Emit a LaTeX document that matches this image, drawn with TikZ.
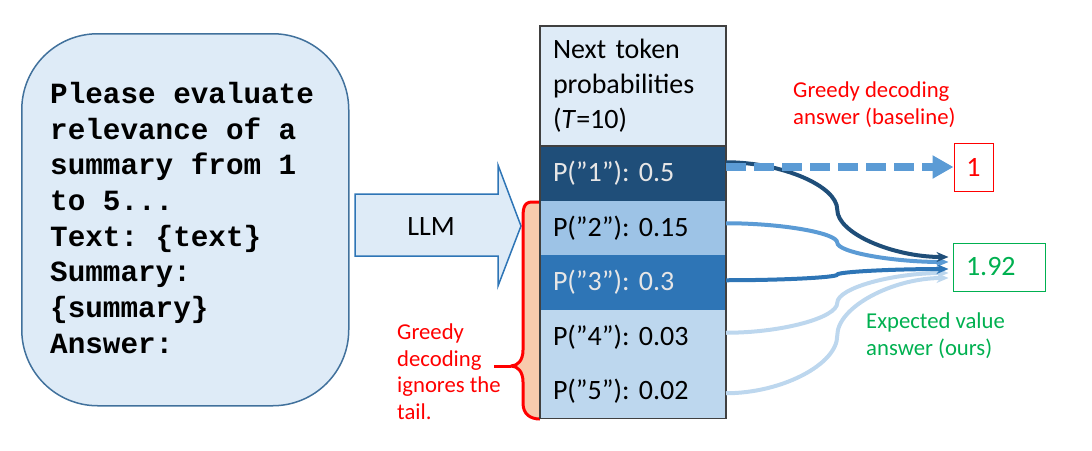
\documentclass[tikz,border=0pt]{standalone}
\usepackage{fontspec}
\setmainfont{Carlito}
\newfontfamily\promptfont{Liberation Mono}
\usetikzlibrary{arrows.meta,calc}
\definecolor{lightbg}{HTML}{DEEBF7}
\definecolor{promptborder}{HTML}{41719C}
\definecolor{llmborder}{HTML}{2E75B6}
\definecolor{pdark}{HTML}{1F4E79}
\definecolor{pmed}{HTML}{9DC3E6}
\definecolor{pblue}{HTML}{2E75B6}
\definecolor{plight}{HTML}{BDD7EE}
\definecolor{pdash}{HTML}{5B9BD5}
\definecolor{ptext}{HTML}{E7E6E6}
\definecolor{tailfill}{HTML}{F8CBAD}
\definecolor{tborder}{HTML}{404040}
\definecolor{redc}{HTML}{FF0000}
\definecolor{greenc}{HTML}{00B050}
\frenchspacing
\tikzset{
  cell/.style={anchor=north west, minimum width=186pt, minimum height=54.5pt,
    text width=160pt, inner xsep=13pt, inner ysep=0pt, outer sep=0pt, align=left,
    font=\fontsize{28}{35}\selectfont},
  note/.style={anchor=north west, inner sep=0pt, align=left,
    font=\fontsize{22.7}{26.5}\selectfont},
  cc3/.style={to path={let \p1=(\tikztostart), \p2=(\tikztotarget) in
    .. controls ({(3*\x1+\x2)/4},\y1) and ({(\x1+\x2)/2},{(3*\y1+\y2)/4}) ..
    ({(\x1+\x2)/2},{(\y1+\y2)/2})
    .. controls ({(\x1+\x2)/2},{(\y1+3*\y2)/4}) and ({(\x1+3*\x2)/4},\y2) ..
    (\tikztotarget) \tikztonodes}},
  flow/.style={line width=4pt, cc3, -{Stealth[length=12pt,width=10pt,inset=4pt]}},
}
\begin{document}
\begin{tikzpicture}[x=1pt,y=-1pt]
\useasboundingbox (0,0) rectangle (1092,450);

% prompt box
\node[draw=promptborder, line width=1.5pt, fill=lightbg, rounded corners=76pt,
  minimum width=327pt, minimum height=372pt, anchor=north west, inner sep=0pt] (prompt) at (21,33) {};
\node[anchor=north west, inner sep=0pt, align=left,
  font=\promptfont\bfseries\fontsize{29.3}{35.7}\selectfont] (ptext) at (50,82)
  {Please evaluate\\relevance of a\\summary from 1\\to 5...\\Text: \{text\}\\Summary:\\\{summary\}\\Answer:};

% LLM arrow
\draw[draw=llmborder, fill=lightbg, line width=1.5pt]
  (355,194) -- (498,194) -- (498,165) -- (521,226) -- (498,286) -- (498,256) -- (355,256) -- cycle;
\node[font=\fontsize{28}{34}\selectfont] (llm) at (431,227) {LLM};

% tail brace
\fill[tailfill] (540,202) -- (532,202) .. controls (523,202) and (523,210) .. (523,220) -- (523,350)
  .. controls (523,360) and (518,366) .. (511,366)
  .. controls (518,366) and (523,372) .. (523,382) -- (523,403)
  .. controls (523,414) and (530,419) .. (540,419) -- cycle;
\draw[redc, line width=3pt, line join=round] (540,202) -- (532,202) .. controls (523,202) and (523,210) .. (523,220) -- (523,350)
  .. controls (523,360) and (518,366) .. (511,366)
  .. controls (518,366) and (523,372) .. (523,382) -- (523,403)
  .. controls (523,414) and (530,419) .. (540,419);
\draw[redc, line width=3pt] (511,366) -- (494,366);
\node[note, text=redc] (tailnote) at (397,324) {Greedy\\decoding\\ignores the\\tail.};

% table
\node[cell, fill=lightbg, minimum height=120pt] (hdr) at (540,26)
  {Next token\\probabilities\\(\textit{T}=10)};
\node[cell, fill=pdark, text=ptext] (r1) at (540,146) {P(”1”): 0.5};
\node[cell, fill=pmed] (r2) at (540,200.5) {P(”2”): 0.15};
\node[cell, fill=pblue, text=ptext] (r3) at (540,255) {P(”3”): 0.3};
\node[cell, fill=plight] (r4) at (540,309.5) {P(”4”): 0.03};
\node[cell, fill=plight] (r5) at (540,364) {P(”5”): 0.02};
\draw[tborder, line width=1.5pt] (hdr.south west) -- (hdr.south east);
\draw[tborder, line width=1.5pt] (hdr.north west) rectangle (r5.south east);

% answer boxes
\node[draw=redc, text=redc, line width=1pt, minimum width=39pt, minimum height=48pt,
  inner sep=0pt, font=\fontsize{28}{34}\selectfont] (one) at (973.5,167) {1};
\node[draw=greenc, text=greenc, line width=1pt, minimum width=92pt, minimum height=48pt,
  text width=66pt, inner xsep=13pt, align=left, font=\fontsize{28}{34}\selectfont] (ev) at (999,267) {1.92};
\node[note, text=redc] (greedylab) at (793,82) {Greedy decoding\\answer (baseline)};
\node[note, text=greenc] (evlab) at (866,313) {Expected value\\answer (ours)};

% connectors
\coordinate (s1) at ([yshift=11pt]r1.east);
\coordinate (s2) at ([yshift=4.5pt]r2.east);
\coordinate (s3) at ([yshift=2pt]r3.east);
\coordinate (s4) at ([yshift=4pt]r4.east);
\coordinate (s5) at ([yshift=-2pt]r5.east);
\coordinate (e1) at ([xshift=-4pt,yshift=10pt]ev.west);
\coordinate (e2) at ([xshift=-4pt,yshift=5pt]ev.west);
\coordinate (e3) at ([xshift=-4pt,yshift=-2pt]ev.west);
\coordinate (e4) at ([xshift=-4pt,yshift=-6pt]ev.west);
\coordinate (e5) at ([xshift=-4pt,yshift=-11pt]ev.west);
\draw[flow, plight] (s5) to (e5);
\draw[flow, plight] (s4) to (e4);
\draw[flow, pdash] (s2) to (e2);
\draw[flow, pblue] (s3) to (e3);
\draw[flow, pdark] (s1) to (e1);
\draw[pdash, line width=7.5pt, dash pattern=on 20pt off 8pt,
  -{Triangle[length=21pt,width=22pt]}] (r1.east |- one.west) -- (one.west);
\end{tikzpicture}
\end{document}
